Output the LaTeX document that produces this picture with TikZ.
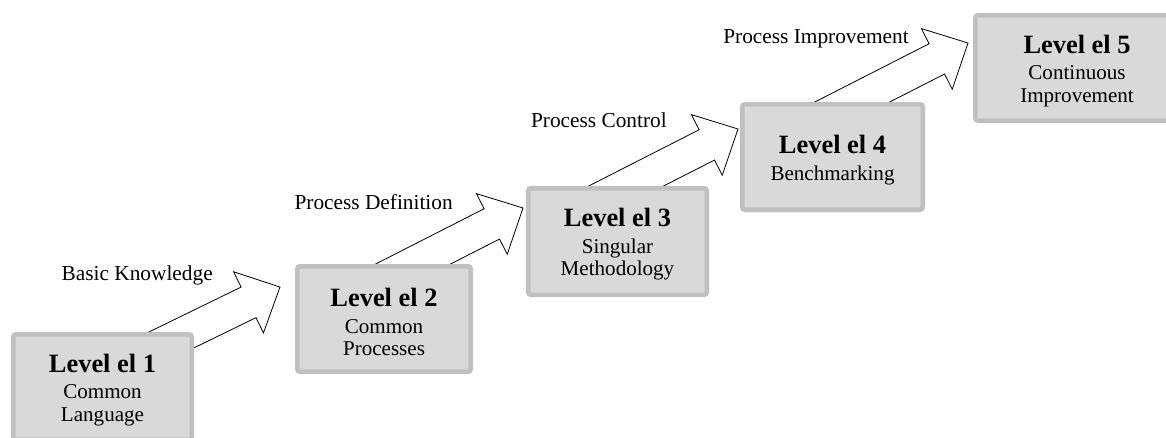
\documentclass[tikz,border=0pt]{standalone}
\usepackage{fontspec}
\setmainfont{Liberation Serif}
\definecolor{boxfill}{HTML}{D9D9D9}
\definecolor{boxline}{HTML}{C0C0C0}
\tikzset{
  levelbox/.style={draw=boxline, fill=boxfill, line width=3.4pt, rounded corners=2pt,
    minimum height=79.1pt, inner sep=0pt},
  leveltext/.style={align=center, inner sep=0pt, font=\fontsize{15.8}{16.8}\selectfont},
  stagearrow/.style={draw=black, fill=white, line width=0.6pt, line join=miter},
  stagelabel/.style={anchor=base east, inner sep=0pt, font=\fontsize{16}{19}\selectfont},
  pics/blockarrow/.style={code={
    \draw[stagearrow] (0,0) -- (-35,34) -- (-35,17) -- (-200,17) -- (-200,-17)
      -- (-35,-17) -- (-35,-34) -- cycle;}},
}
\newcommand{\leveltitle}[1]{{\bfseries\fontsize{19.8}{20}\selectfont #1}\\[3.2pt]}
\begin{document}
\begin{tikzpicture}[x=0.75pt,y=-0.75pt]
  \useasboundingbox (0,0) rectangle (1166,437);
  \clip (0,0) rectangle (1166,437);

  % arrow tips, each just short of the next level
  \coordinate (t1) at (280,287);
  \coordinate (t2) at (523,208);
  \coordinate (t3) at (738,129);
  \coordinate (t4) at (968,43);

  % block arrows (tails hidden beneath the boxes)
  \pic[rotate=26] at (t1) {blockarrow};
  \pic[rotate=27] at (t2) {blockarrow};
  \pic[rotate=27] at (t3) {blockarrow};
  \pic[rotate=27] at (t4) {blockarrow};

  % level boxes
  \node[levelbox, minimum width=133.9pt] (b1) at (102.5,387) {};
  \node[levelbox, minimum width=130.1pt] (b2) at (384,319) {};
  \node[levelbox, minimum width=133.9pt, minimum height=79.9pt] (b3) at (617.5,241.5) {};
  \node[levelbox, minimum width=135.4pt] (b4) at (832.5,157) {};
  \node[levelbox, minimum width=152.6pt] (b5) at (1077,68) {};

  % box texts
  \node[leveltext] (l1) at ([yshift=-2.2pt]b1.center) {\leveltitle{Level el 1}Common\\Language};
  \node[leveltext] (l2) at ([yshift=-2.2pt]b2.center) {\leveltitle{Level el 2}Common\\Processes};
  \node[leveltext] (l3) at ([yshift=-2.2pt]b3.center) {\leveltitle{Level el 3}Singular\\Methodology};
  \node[leveltext] (l4) at ([yshift=-2.2pt]b4.center) {\leveltitle{Level el 4}Benchmarking};
  \node[leveltext] (l5) at ([yshift=-2.2pt]b5.center) {\leveltitle{Level el 5}Continuous\\Improvement};

  % stage labels
  \node[stagelabel] (s1) at (213,280) {Basic Knowledge};
  \node[stagelabel] (s2) at (453,209) {Process Definition};
  \node[stagelabel] (s3) at (667,127) {Process Control};
  \node[stagelabel] (s4) at (909,43) {Process Improvement};
\end{tikzpicture}
\end{document}
